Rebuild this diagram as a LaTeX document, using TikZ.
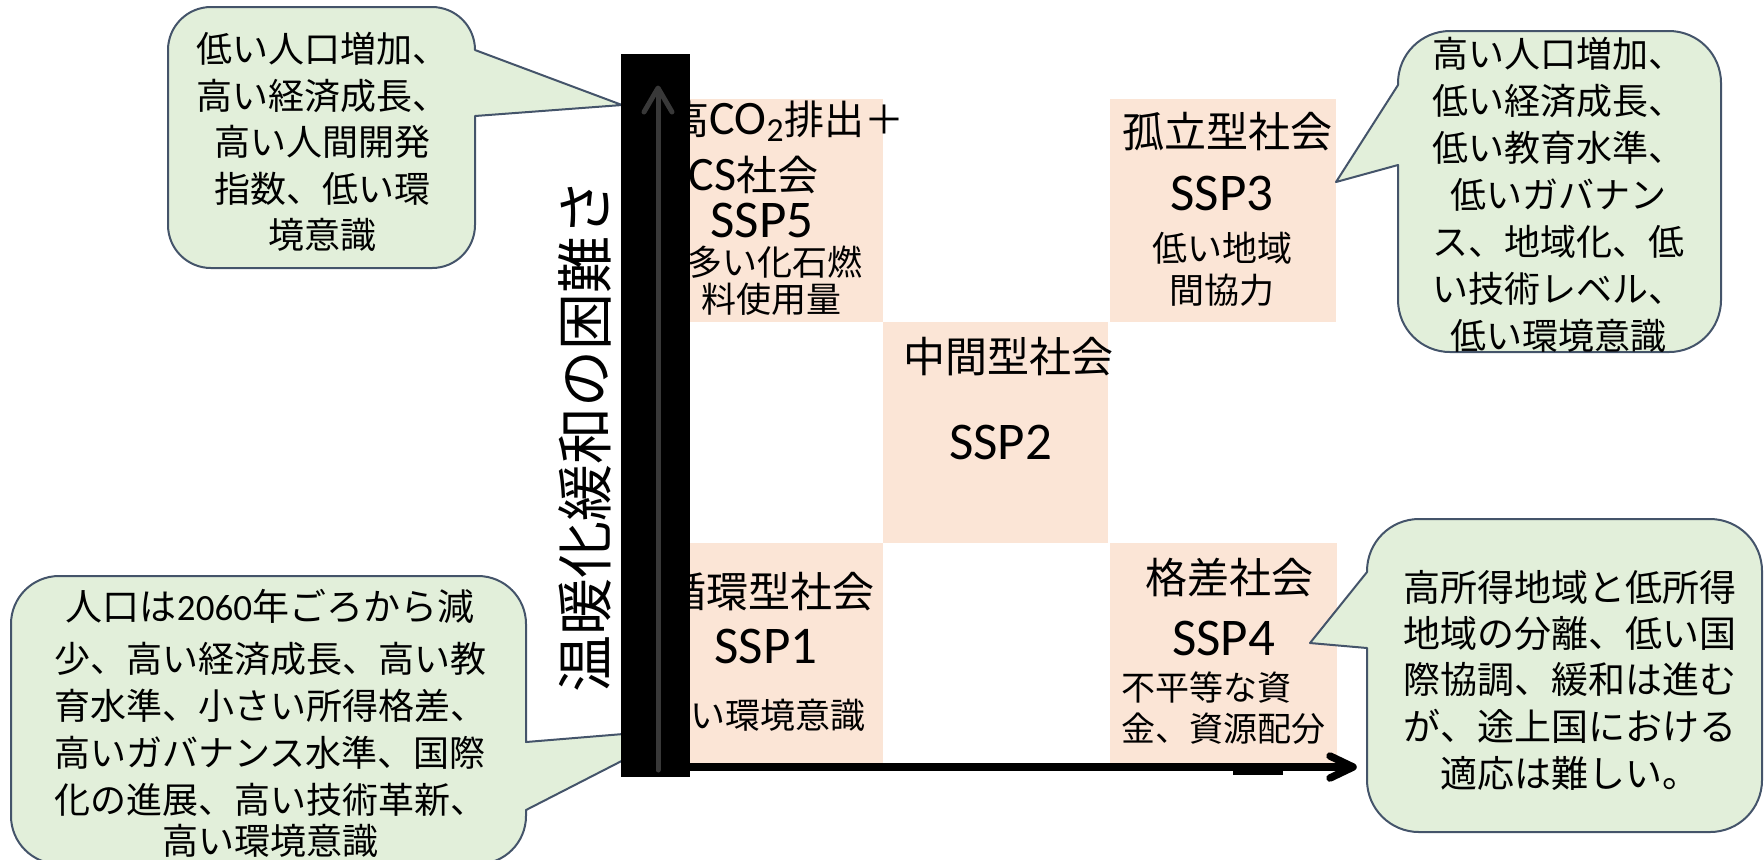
\documentclass[tikz,border=0pt]{standalone}
\usepackage{fontspec}
\setmainfont{Carlito}
\newfontfamily\jp{Noto Sans CJK JP}
\definecolor{cellpink}{HTML}{FBE5D6}
\definecolor{callfill}{HTML}{E2EFDA}
\definecolor{callline}{HTML}{44546A}
\begin{document}
\begin{tikzpicture}[x=0.5pt,y=-0.5pt,
  cellbox/.style={fill=cellpink, draw=none, inner sep=0pt},
  callout/.style={fill=callfill, draw=callline, line width=1pt, line join=round},
  title/.style={inner sep=0pt, font=\jp\fontsize{21}{21}\selectfont},
  ssp/.style={inner sep=0pt, font=\fontsize{26.5}{26.5}\selectfont},
  small/.style={inner sep=0pt, font=\jp\fontsize{17.5}{17.5}\selectfont},
  note/.style={inner sep=0pt, font=\jp\fontsize{18}{18}\selectfont},
  axislabel/.style={inner sep=0pt, rotate=90, font=\jp\fontsize{28.5}{28.5}\selectfont},
  axisline/.style={line width=3.75pt, line cap=butt},
  axishead/.style={line width=3.75pt, line cap=round, line join=round},
  innerarrow/.style={draw=black!78, line width=2.5pt, line cap=round, line join=round}]
\useasboundingbox (0,0) rectangle (1764,859);
\clip (0,0) rectangle (1764,859);

% cells
\node[cellbox, minimum width=97pt, minimum height=111.5pt] (ssp5box) at (786,210.5) {};
\node[cellbox, minimum width=113pt, minimum height=111.5pt] (ssp3box) at (1223,210.5) {};
\node[cellbox, minimum width=112.5pt, minimum height=110.5pt] (ssp2box) at (995.5,432.5) {};
\node[cellbox, minimum width=97pt, minimum height=110pt] (ssp1box) at (786,653) {};
\node[cellbox, minimum width=113.5pt, minimum height=110pt] (ssp4box) at (1223.5,653) {};

% SSP5 texts
\node[inner sep=0pt, anchor=base east] (t5a) at (905,134) {{\jp\fontsize{20}{20}\selectfont 高}{\fontsize{24}{24}\selectfont CO\textsubscript{2}}{\jp\fontsize{20}{20}\selectfont 排出＋}};
\node[inner sep=0pt, anchor=base east] (t5b) at (819,190) {{\fontsize{24}{24}\selectfont CCS}{\jp\fontsize{20.5}{20.5}\selectfont 社会}};
\node[ssp] (t5c) at (762,220) {SSP5};
\node[small] (t5d) at (774.5,262) {多い化石燃};
\node[small] (t5e) at (771,299) {料使用量};

% SSP3 texts
\node[title] (t3a) at (1227,132) {孤立型社会};
\node[ssp] (t3b) at (1222,193) {SSP3};
\node[small] (t3c) at (1222,248) {低い地域};
\node[small] (t3d) at (1222,290) {間協力};

% SSP2 texts
\node[title] (t2a) at (1008,357) {中間型社会};
\node[ssp] (t2b) at (1000.5,442) {SSP2};

% SSP1 texts
\node[title, anchor=east] (t1a) at (875,592) {循環型社会};
\node[ssp] (t1b) at (766,646) {SSP1};
\node[small, anchor=east] (t1c) at (866,715) {高い環境意識};

% SSP4 texts
\node[title] (t4a) at (1229,578) {格差社会};
\node[ssp] (t4b) at (1223.5,638) {SSP4};
\node[small, font=\jp\fontsize{17}{17}\selectfont, anchor=west] (t4c) at (1121,688) {不平等な資};
\node[small, font=\jp\fontsize{17}{17}\selectfont, anchor=west] (t4d) at (1121,729) {金、資源配分};

% axis label
\node[axislabel] (ylabel) at (585,436) {温暖化緩和の困難さ};

% callout 1 (top left)
\draw[callout] (475,116) -- (622,105) -- (475,50)
  arc[start angle=0,end angle=-90,radius=43] -- (211,7)
  arc[start angle=-90,end angle=-180,radius=43] -- (168,225)
  arc[start angle=180,end angle=90,radius=43] -- (432,268)
  arc[start angle=90,end angle=0,radius=43] -- cycle;
\node[note] (c1a) at (322,49) {低い人口増加、};
\node[note] (c1b) at (322,95.5) {高い経済成長、};
\node[note] (c1c) at (322,142) {高い人間開発};
\node[note] (c1d) at (322,188.5) {指数、低い環};
\node[note] (c1e) at (322,235) {境意識};

% callout 2 (top right)
\draw[callout] (1398,165) -- (1336,182) -- (1398,85) -- (1398,83)
  arc[start angle=180,end angle=270,radius=52] -- (1669,31)
  arc[start angle=270,end angle=360,radius=52] -- (1721,300)
  arc[start angle=0,end angle=90,radius=52] -- (1450,352)
  arc[start angle=90,end angle=180,radius=52] -- cycle;
\node[note] (c2a) at (1558,54) {高い人口増加、};
\node[note] (c2b) at (1558,101) {低い経済成長、};
\node[note] (c2c) at (1558,148) {低い教育水準、};
\node[note] (c2d) at (1558,195) {低いガバナン};
\node[note] (c2e) at (1558,242) {ス、地域化、低};
\node[note] (c2f) at (1558,289) {い技術レベル、};
\node[note] (c2g) at (1558,336) {低い環境意識};

% callout 3 (bottom left)
\draw[callout] (526,810) -- (684,729) -- (526,742) -- (526,624)
  arc[start angle=0,end angle=-90,radius=48] -- (59,576)
  arc[start angle=-90,end angle=-180,radius=48] -- (11,816)
  arc[start angle=180,end angle=90,radius=48] -- (478,864)
  arc[start angle=90,end angle=0,radius=48] -- cycle;
\node[note, font=\jp\fontsize{18.5}{18.5}\selectfont] (c3a) at (270,606) {人口は{\fontspec{Carlito}\fontsize{18.5}{18.5}\selectfont 2060}年ごろから減};
\node[note] (c3b) at (270,659) {少、高い経済成長、高い教};
\node[note] (c3c) at (270,706) {育水準、小さい所得格差、};
\node[note] (c3d) at (270,753) {高いガバナンス水準、国際};
\node[note] (c3e) at (270,800) {化の進展、高い技術革新、};
\node[note] (c3f) at (270,841) {高い環境意識};

% callout 4 (bottom right)
\draw[callout] (1367,648) -- (1310,643) -- (1367,572) -- (1367,571)
  arc[start angle=180,end angle=270,radius=52] -- (1710,519)
  arc[start angle=270,end angle=360,radius=52] -- (1762,780)
  arc[start angle=0,end angle=90,radius=52] -- (1419,832)
  arc[start angle=90,end angle=180,radius=52] -- cycle;
\node[note, font=\jp\fontsize{18.5}{18.5}\selectfont] (c4a) at (1570,587) {高所得地域と低所得};
\node[note, font=\jp\fontsize{18.5}{18.5}\selectfont] (c4b) at (1570,633.5) {地域の分離、低い国};
\node[note, font=\jp\fontsize{18.5}{18.5}\selectfont] (c4c) at (1570,680) {際協調、緩和は進む};
\node[note, font=\jp\fontsize{18.5}{18.5}\selectfont] (c4d) at (1570,726.5) {が、途上国における};
\node[note, font=\jp\fontsize{18.5}{18.5}\selectfont] (c4e) at (1570,773) {適応は難しい。};

% vertical axis bar with inner arrow
\fill[black] (621,54) rectangle (690,777);
\coordinate (vbot) at (658,770);
\coordinate (vtop) at (658,89);
\draw[innerarrow] (vbot) -- (vtop);
\draw[innerarrow] (644,112) -- (658,88) -- (672,112);

% horizontal axis arrow
\coordinate (hstart) at (690,767);
\coordinate (hend) at (1351,767);
\draw[axisline] (hstart) -- (hend);
\draw[axishead] (1330,756) -- (1353,767) -- (1330,778);
\fill[black] (1233,767) rectangle (1283,775);
\end{tikzpicture}
\end{document}
